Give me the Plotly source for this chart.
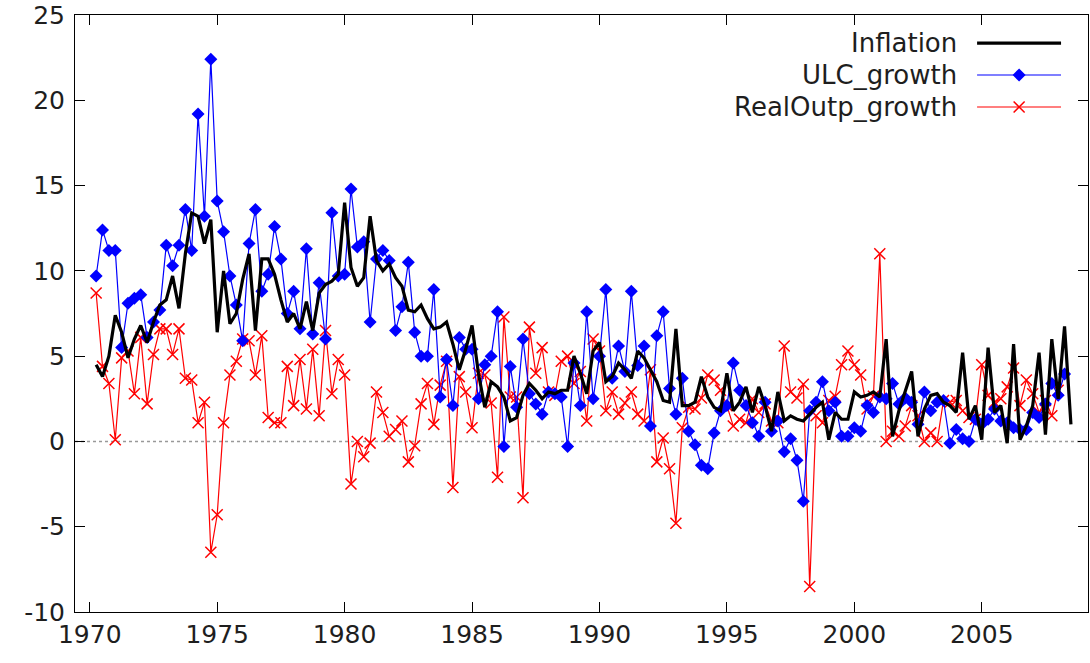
import plotly.graph_objects as go

# Quarterly series, first observation 1970 Q2 (plotted at 1970.25)
start_year = 1970.25
step = 0.25

inflation = [
    4.5, 3.8, 5.0, 7.4, 6.4, 4.9, 6.0, 6.8, 5.8, 7.0, 8.0, 8.3, 9.7, 7.8, 11.0, 13.4, 13.2, 11.6, 13.0,  # 1970.25-1974.75
    6.4, 10.0, 6.9, 7.5, 9.5, 11.0, 6.5, 10.7, 10.7, 9.8, 8.3, 7.0, 7.5, 6.6, 8.2, 6.5, 8.7, 9.2, 9.4, 9.8,  # 1975-1979
    14.0, 10.2, 9.1, 9.6, 13.2, 10.6, 10.0, 10.4, 9.6, 9.1, 7.7, 7.6, 8.0, 7.2, 6.6, 6.7, 7.0, 5.7, 4.2, 5.4,  # 1980-1984
    6.8, 4.0, 2.0, 3.5, 3.2, 2.6, 1.2, 1.4, 2.7, 3.4, 3.0, 2.5, 2.9, 2.8, 3.0, 3.0, 5.0, 4.0, 2.8, 5.3,  # 1985-1989
    5.8, 3.5, 3.8, 4.6, 4.2, 3.7, 5.3, 4.9, 4.2, 3.5, 2.4, 2.3, 6.6, 2.1, 2.1, 2.3, 3.8, 2.6, 2.0, 1.8,  # 1990-1994
    4.0, 1.8, 2.3, 3.2, 1.7, 3.2, 2.1, 0.6, 2.9, 1.2, 1.5, 1.3, 1.2, 1.6, 2.0, 2.3, 0.1, 1.7, 1.3, 1.3,  # 1995-1999
    2.9, 2.6, 2.7, 2.9, 2.6, 6.0, 0.3, 1.8, 3.0, 4.1, 0.3, 1.9, 2.7, 2.8, 2.3, 2.1, 1.7, 5.2, 1.3, 2.1,  # 2000-2004
    0.1, 5.5, 1.7, 2.1, -0.1, 5.7, 0.1, 0.9, 2.1, 5.2, 0.4, 6.0, 2.5, 6.75, 1.0,  # 2005-2008.5
]

ulc_growth = [
    9.7, 12.4, 11.2, 11.2, 5.5, 8.1, 8.4, 8.6, 6.1, 7.0, 7.7, 11.5, 10.3, 11.5, 13.6, 11.2, 19.2, 13.2, 22.4,
    14.1, 12.3, 9.7, 8.0, 5.9, 11.6, 13.6, 8.8, 9.8, 12.6, 10.7, 7.5, 8.8, 6.6, 11.3, 6.3, 9.3, 6.0, 13.4, 9.7,
    9.8, 14.8, 11.4, 11.7, 7.0, 10.7, 11.2, 10.6, 6.5, 7.9, 10.5, 6.4, 5.0, 5.0, 8.9, 2.6, 4.8, 2.1, 6.1, 5.4,
    5.4, 2.5, 4.5, 5.0, 7.6, -0.3, 4.4, 2.0, 6.0, 2.8, 2.2, 1.6, 2.9, 2.8, 2.6, -0.3, 4.6, 2.1, 7.6, 2.5,
    5.0, 8.9, 3.7, 5.6, 4.1, 8.8, 4.45, 5.6, 0.9, 6.2, 7.6, 3.1, 1.6, 3.7, 0.6, -0.2, -1.4, -1.6, 0.5, 1.8,
    2.1, 4.6, 3.0, 2.1, 1.1, 0.3, 2.3, 0.6, 1.2, -0.6, 0.15, -1.1, -3.5, 1.8, 2.3, 3.5, 1.8, 2.3, 0.3, 0.3,
    0.8, 0.6, 2.1, 1.7, 2.6, 2.5, 3.4, 2.2, 2.55, 2.3, 1.0, 2.9, 1.8, 2.3, 2.4, -0.1, 0.7, 0.15, 0.0, 1.3,
    1.0, 1.3, 1.9, 1.2, 1.1, 0.8, 0.7, 0.7, 1.7, 1.4, 2.2, 3.4, 2.7, 3.95,
]

realoutp_growth = [
    8.7, 4.4, 3.4, 0.1, 4.9, 5.3, 2.8, 6.1, 2.2, 5.1, 6.6, 6.6, 5.1, 6.6, 3.7, 3.6, 1.1, 2.3, -6.5,
    -4.3, 1.1, 3.9, 4.7, 6.0, 5.9, 3.9, 6.2, 1.4, 1.1, 1.1, 4.4, 2.1, 4.8, 1.9, 5.4, 1.5, 6.5, 2.8, 4.8,
    3.9, -2.5, 0.0, -0.9, -0.1, 2.9, 1.7, 0.3, 0.7, 1.2, -1.2, -0.25, 2.2, 3.4, 1.0, 3.3, 4.7, -2.7, 3.8, 2.9,
    0.8, 4.0, 3.9, 2.25, -2.1, 7.3, 2.6, 2.6, -3.3, 6.7, 4.0, 5.5, 2.9, 2.7, 4.7, 5.0, 3.4, 4.1, 1.2, 6.0,
    5.3, 1.8, 2.9, 1.6, 2.25, 2.9, 1.6, 1.2, 4.2, -1.2, 0.2, -1.6, -4.8, 0.8, 2.0, 1.9, 2.55, 3.9, 3.6, 3.0,
    2.1, 0.9, 1.3, 1.1, 2.5, 1.7, 2.2, 1.2, 1.1, 5.6, 2.9, 2.55, 3.35, -8.5, 1.5, 1.1, 2.4, 2.65, 4.5, 5.3,
    4.5, 3.9, 1.9, 2.65, 11.0, 0.0, 0.6, 0.3, 0.9, 2.1, 1.5, 0.0, 0.5, 0.0, 2.4, 2.3, 2.4, 1.8, 1.4, 1.3,
    4.5, 2.7, 2.3, 2.5, 3.2, 4.3, 2.1, 3.6, 2.8, 1.7, 2.4, 1.5, 3.0,
]

series_names = ["Inflation", "ULC_growth", "RealOutp_growth"]
x_tick_years = [1970, 1975, 1980, 1985, 1990, 1995, 2000, 2005]
y_tick_values = [-10, -5, 0, 5, 10, 15, 20, 25]
y_tick_labels = ["-10", "-5", "0", "5", "10", "15", "20", "25"]


def dates(values):
    return [start_year + step * i for i in range(len(values))]


FONT = "DejaVu Sans"
TXT = "#1e1e1e"

fig = go.Figure()

fig.add_trace(go.Scatter(
    x=dates(realoutp_growth), y=realoutp_growth, mode="lines+markers",
    line=dict(color="#ff0000", width=1.2),
    marker=dict(symbol="x-thin", size=11, line=dict(color="#ff0000", width=1.5)),
    name=series_names[2]))
fig.add_trace(go.Scatter(
    x=dates(ulc_growth), y=ulc_growth, mode="lines+markers",
    line=dict(color="#0000ff", width=1.2),
    marker=dict(symbol="diamond", size=10, color="#0000ff", line=dict(width=0)),
    name=series_names[1]))
fig.add_trace(go.Scatter(
    x=dates(inflation), y=inflation, mode="lines",
    line=dict(color="#000000", width=3.2),
    name=series_names[0]))

# key (gnuplot style: text then sample) on an overlay axis in [0,1]
key_rows = [0.953, 0.8995, 0.8459]
key_x0, key_x1, key_xm = 0.8905, 0.9734, 0.932
key_text_x = 0.8725
fig.add_trace(go.Scatter(x=[key_x0, key_x1], y=[key_rows[0]] * 2, mode="lines",
                         line=dict(color="#000000", width=3.2), xaxis="x2", yaxis="y2",
                         hoverinfo="skip"))
fig.add_trace(go.Scatter(x=[key_x0, key_xm, key_x1], y=[key_rows[1]] * 3, mode="lines+markers",
                         line=dict(color="#0000ff", width=1.2),
                         marker=dict(symbol="diamond", size=10, color="#0000ff",
                                     opacity=1, line=dict(width=0)),
                         selectedpoints=[1], unselected=dict(marker=dict(opacity=0)),
                         xaxis="x2", yaxis="y2", hoverinfo="skip"))
fig.add_trace(go.Scatter(x=[key_x0, key_xm, key_x1], y=[key_rows[2]] * 3, mode="lines+markers",
                         line=dict(color="#ff0000", width=1.2),
                         marker=dict(symbol="x-thin", size=11, line=dict(color="#ff0000", width=1.5)),
                         selectedpoints=[1], unselected=dict(marker=dict(opacity=0)),
                         xaxis="x2", yaxis="y2", hoverinfo="skip"))
for name, yy in zip(series_names, key_rows):
    fig.add_annotation(x=key_text_x, y=yy, xref="paper", yref="paper", text=name,
                       showarrow=False, xanchor="right", yanchor="middle",
                       font=dict(family=FONT, size=26, color=TXT))

# dotted zero axis
fig.add_shape(type="line", xref="paper", x0=0, x1=1, yref="y", y0=0, y1=0,
              line=dict(color="#999999", width=1.5, dash="dot"), layer="below")

axis_common = dict(showgrid=False, zeroline=False, showline=True, linecolor="#000000",
                   linewidth=1, mirror="allticks", ticks="inside", ticklen=10,
                   tickcolor="#000000", tickwidth=1,
                   tickfont=dict(family=FONT, size=25, color=TXT))

fig.update_layout(
    width=1090, height=663,
    margin=dict(l=75, r=2, t=15, b=51),
    paper_bgcolor="#ffffff", plot_bgcolor="#ffffff",
    showlegend=False,
    xaxis=dict(range=[1969.42, 2009.17], tickmode="array", tickvals=x_tick_years,
               ticktext=[str(v) for v in x_tick_years], **axis_common),
    yaxis=dict(range=[-10, 25], tickmode="array", tickvals=y_tick_values,
               ticktext=y_tick_labels, ticklabelstandoff=4, **axis_common),
    xaxis2=dict(range=[0, 1], overlaying="x", visible=False, fixedrange=True),
    yaxis2=dict(range=[0, 1], overlaying="y", visible=False, fixedrange=True),
)

fig.write_html("out.html")
